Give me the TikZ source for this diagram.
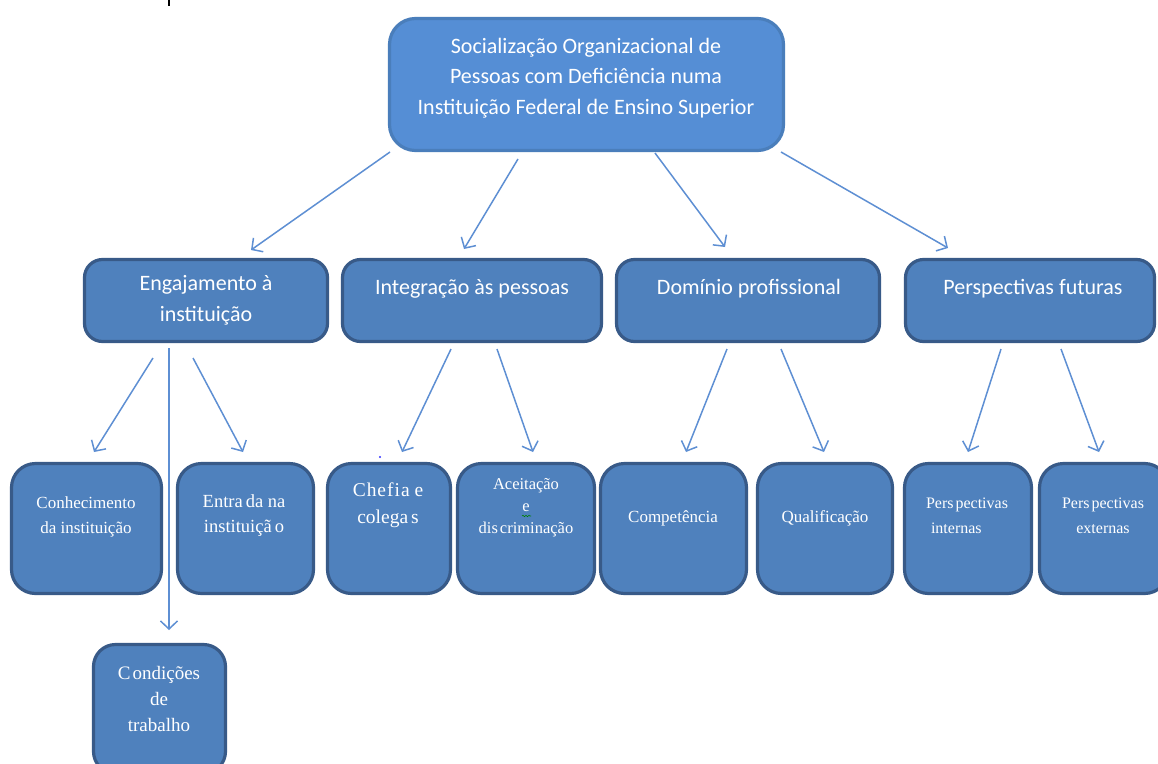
\documentclass[tikz,border=0pt]{standalone}
\usepackage{fontspec}
\setmainfont{Liberation Serif}
\newfontfamily\calib{Carlito}
\usetikzlibrary{arrows.meta,decorations.pathmorphing}
\definecolor{boxfill}{HTML}{4F81BD}
\definecolor{boxline}{HTML}{385A88}
\definecolor{topfill}{HTML}{558ED5}
\definecolor{topline}{HTML}{4A7EBB}
\definecolor{arrowblue}{HTML}{5E8FD3}
\begin{document}
\begin{tikzpicture}[x=1pt,y=-1pt,
  panel/.style={draw=boxline, fill=boxfill, line width=3.2pt, rounded corners=#1, inner sep=0pt},
  panel/.default=20pt,
  headtxt/.style={font=\calib\fontsize{22}{30.5}\selectfont, text=white, align=center, inner sep=0pt},
  leaftxt/.style={font=\fontsize{17}{25}\selectfont, text=white, align=center, inner sep=0pt},
  link/.style={draw=arrowblue, line width=1.5pt, -{Straight Barb[length=8pt,width=17pt]}}]
\useasboundingbox (0,0) rectangle (1158,763);
\clip (0,0) rectangle (1158,763);

% stroke of a letter running off the top edge
\draw[line width=1.8pt] (169,0) -- (169,6);

% root
\node[panel=26pt, draw=topline, fill=topfill, minimum width=394pt, minimum height=132pt] (root) at (586.5,84.5) {};
\node[headtxt] (roott) at (586,78) {Socialização Organizacional de\\Pessoas com Deficiência numa\\Instituição Federal de Ensino Superior};

% second level
\node[panel=18pt, minimum width=243pt, minimum height=82pt] (eng) at (206,300.5) {};
\node[panel=18pt, minimum width=259pt, minimum height=82pt] (integ) at (472,300.5) {};
\node[panel=18pt, minimum width=263pt, minimum height=82pt] (dom) at (748,300.5) {};
\node[panel=18pt, minimum width=249pt, minimum height=82pt] (persp) at (1030,300.5) {};
\node[headtxt, font=\calib\fontsize{22}{31}\selectfont] (engt) at (206,300.5) {Engajamento à\\instituição};
\node[headtxt] (integt) at (472,289) {Integração às pessoas};
\node[headtxt] (domt) at (749,289) {Domínio profissional};
\node[headtxt] (perspt) at (1033,289) {Perspectivas futuras};

% third level
\node[panel=24pt, minimum width=150pt, minimum height=130pt] (conh) at (86.5,528.5) {};
\node[panel=24pt, minimum width=136pt, minimum height=130pt] (entr) at (245.5,528.5) {};
\node[panel=24pt, minimum width=123pt, minimum height=130pt] (chef) at (389,528.5) {};
\node[panel=24pt, minimum width=137pt, minimum height=130pt] (acei) at (526,528.5) {};
\node[panel=24pt, minimum width=146pt, minimum height=130pt] (comp) at (673.5,528.5) {};
\node[panel=24pt, minimum width=135pt, minimum height=130pt] (qual) at (825,528.5) {};
\node[panel=24pt, minimum width=127pt, minimum height=130pt] (pint) at (968,528.5) {};
\node[panel=24pt, minimum width=129pt, minimum height=130pt] (pext) at (1104,528.5) {};
\node[panel=22pt, minimum width=132pt, minimum height=129pt] (cond) at (159.5,709) {};

\node[leaftxt] (conht) at (86,516.5) {Conhecimento\\da instituição};
\node[leaftxt, font=\fontsize{18.5}{25}\selectfont] (entrt) at (244,515.5) {Entra\hspace{3pt}da na\\instituiçã\hspace{3pt}o};
\node[leaftxt, font=\fontsize{19.5}{27}\selectfont] (cheft) at (388,505.5) {C\hspace{1pt}h\hspace{1pt}e\hspace{1pt}f\hspace{1pt}i\hspace{1pt}a e\\colega\hspace{3pt}s};
\node[leaftxt, font=\fontsize{16.5}{22}\selectfont] (aceit) at (526,508) {Aceitação\\e\\dis\hspace{2pt}criminação};
\node[leaftxt] (compt) at (673,518) {Competência};
\node[leaftxt] (qualt) at (825,518) {Qualificação};
\node[leaftxt, font=\fontsize{16}{25}\selectfont, align=left] (pintt) at (967,515.5) {Pers\hspace{2pt}pectivas\\\hspace*{5pt}internas};
\node[leaftxt, font=\fontsize{16}{25}\selectfont] (pextt) at (1103,515.5) {Pers\hspace{2pt}pectivas\\externas};
\node[leaftxt, font=\fontsize{19}{26}\selectfont] (condt) at (159,699) {C\hspace{2pt}ondições\\de\\trabalho};

% small marks
\fill[blue!80] (380,457) circle (1.1pt);
\draw[green!50!black, line width=0.6pt, decorate, decoration={snake, amplitude=0.7pt, segment length=3pt}] (522,516) -- (531,516);

% arrow end points
\coordinate (r1) at (390,152);  \coordinate (e1) at (251,250);
\coordinate (r2) at (518,159);  \coordinate (e2) at (464,249);
\coordinate (r3) at (655,153);  \coordinate (e3) at (725,247);
\coordinate (r4) at (781,152);  \coordinate (e4) at (948,248);

\coordinate (a1) at (153,358);  \coordinate (b1) at (94,452);
\coordinate (a2) at (169,348);  \coordinate (b2) at (169,630);
\coordinate (a3) at (193,358);  \coordinate (b3) at (243,452);
\coordinate (a4) at (451,349);  \coordinate (b4) at (402,452);
\coordinate (a5) at (497,349);  \coordinate (b5) at (533,452);
\coordinate (a6) at (727,349);  \coordinate (b6) at (686,452);
\coordinate (a7) at (781,349);  \coordinate (b7) at (824,452);
\coordinate (a8) at (1001,349); \coordinate (b8) at (968,452);
\coordinate (a9) at (1061,349); \coordinate (b9) at (1099,452);

\foreach \s/\t in {r1/e1,r2/e2,r3/e3,r4/e4,a1/b1,a2/b2,a3/b3,a4/b4,a5/b5,a6/b6,a7/b7,a8/b8,a9/b9}
  \draw[link] (\s) -- (\t);
\end{tikzpicture}
\end{document}
